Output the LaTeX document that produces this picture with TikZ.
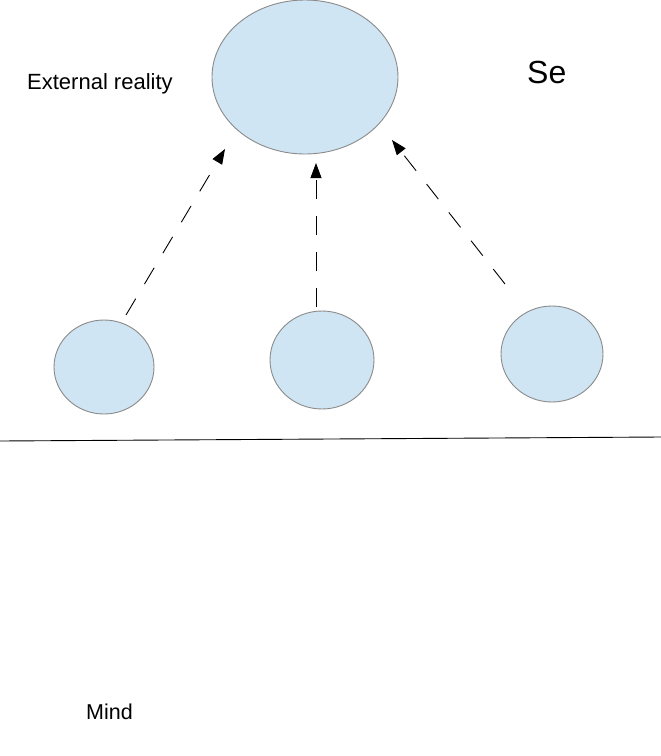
\documentclass[tikz,border=0pt]{standalone}
\usepackage{fontspec}
\setmainfont{Liberation Sans}
\usetikzlibrary{shapes.geometric,arrows.meta}
\definecolor{bubble}{HTML}{CFE5F3}
\definecolor{rim}{HTML}{8A8A8A}
\begin{document}
\begin{tikzpicture}[x=1pt,y=-1pt,
  bub/.style={ellipse,draw=rim,fill=bubble,line width=0.9pt,inner sep=0pt},
  arr/.style={draw=black,line width=0.9pt,dash pattern=on 19pt off 17pt,
    -{Triangle[length=15pt,width=11pt]}},
  lbl/.style={anchor=base west,inner sep=0pt,text=black}]
\useasboundingbox (0,0) rectangle (661,756);
\node[bub,minimum width=186pt,minimum height=154pt] (big) at (305,77) {};
\node[bub,minimum width=100pt,minimum height=94pt] (l) at (104,367) {};
\node[bub,minimum width=104pt,minimum height=98pt] (m) at (322,360) {};
\node[bub,minimum width=102pt,minimum height=96pt] (r) at (552,354) {};
\coordinate (a1s) at (126,315);
\coordinate (a1e) at (225,149);
\coordinate (a2s) at (316,307);
\coordinate (a2e) at (316,163);
\coordinate (a3s) at (505,284);
\coordinate (a3e) at (392,140);
\draw[arr] (a1s) -- (a1e);
\draw[arr] (a2s) -- (a2e);
\draw[arr] (a3s) -- (a3e);
\coordinate (hl) at (0,441);
\coordinate (hr) at (661,437);
\draw[line width=0.9pt] (hl) -- (hr);
\node[lbl,font=\fontsize{22}{26}\selectfont] (ext) at (27,89) {External reality};
\node[lbl,font=\fontsize{32}{38}\selectfont] (se) at (527,83) {Se};
\node[lbl,font=\fontsize{21.5}{26}\selectfont] (mind) at (86,719) {Mind};
\end{tikzpicture}
\end{document}
